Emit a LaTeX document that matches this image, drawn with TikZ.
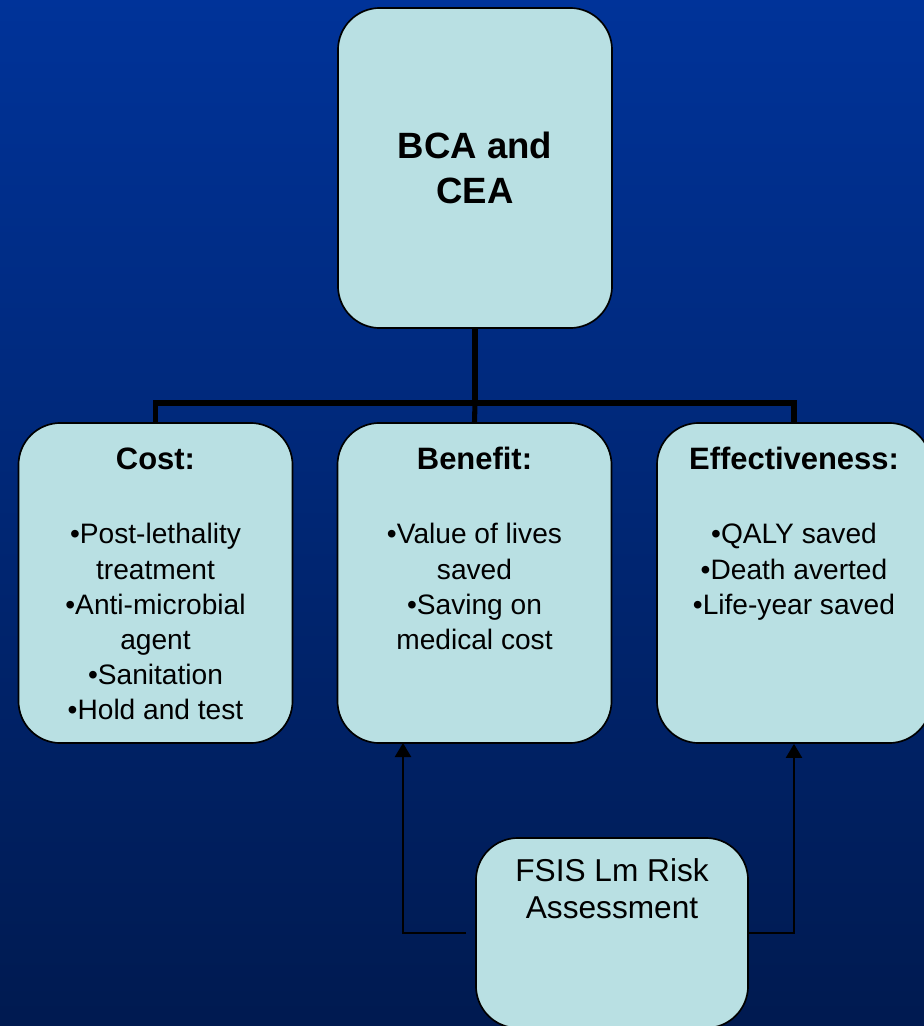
\documentclass[tikz,border=0pt]{standalone}
\usepackage{fontspec}
\setmainfont{Liberation Sans}
\usetikzlibrary{positioning, calc, arrows.meta}

\definecolor{bgtop}{RGB}{0,51,153}
\definecolor{bgbottom}{RGB}{0,26,80}
\definecolor{cardfill}{RGB}{185,224,227}

\newcommand{\cardtext}[3]{\parbox[c][8cm][t]{6.8cm}{\centering\vspace*{#1}{#2}\\[28pt]#3}}

\begin{document}
\begin{tikzpicture}[x=0.025cm, y=-0.025cm,
    card/.style={draw=black, line width=1.2pt, fill=cardfill, rounded corners=1.05cm,
        inner sep=0pt, minimum width=6.85cm, minimum height=8cm},
    tree/.style={draw=black, line width=3.6pt},
    feed/.style={draw=black, line width=1.4pt, -{Triangle[length=10pt, width=11.5pt]}}]
    \useasboundingbox (0,0) rectangle (924,1026);
    \clip (0,0) rectangle (924,1026);

    % background
    \shade[top color=bgtop, bottom color=bgbottom] (0,0) rectangle (924,1026);

    % top box
    \node[card, font=\fontsize{26}{32}\selectfont\bfseries, align=center] (top) at (475,168)
        {BCA and\\CEA};

    % three boxes below
    \node[card, font=\fontsize{20}{25}\selectfont] (cost) at (155.5,583)
        {\cardtext{15.5pt}{\fontsize{22}{25}\selectfont\bfseries\strut Cost:}
        {•Post-lethality\\treatment\\•Anti-microbial\\agent\\•Sanitation\\•Hold and test}};
    \node[card, font=\fontsize{20}{25}\selectfont] (ben) at (474.5,583)
        {\cardtext{15.5pt}{\fontsize{22}{25}\selectfont\bfseries\strut Benefit:}
        {•Value of lives\\saved\\•Saving on\\medical cost}};
    \node[card, font=\fontsize{20}{25}\selectfont] (eff) at (794,583)
        {\cardtext{15.5pt}{\fontsize{22}{25}\selectfont\bfseries\strut Effectiveness:}
        {•QALY saved\\•Death averted\\•Life-year saved}};

    % risk assessment box
    \node[card, minimum width=6.8cm, minimum height=4.75cm, font=\fontsize{22.5}{26}\selectfont] (fsis) at (612,933)
        {\parbox[c][4.75cm][t]{6.8cm}{\centering\vspace*{13pt}\strut FSIS Lm Risk\\Assessment}};

    % connectors of the tree
    \coordinate (bus) at (475,403);
    \draw[tree] (top.south) -- (bus);
    \draw[tree] (cost.north) |- (bus) -| (eff.north);
    \draw[tree] (bus) -- (ben.north);

    % arrows into the boxes
    \coordinate (fsisl) at (466,933);
    \coordinate (benin) at (403,743);
    \draw[feed] (fsisl) -| (benin);
    \draw[feed] (fsis.east) -| (eff.south);
\end{tikzpicture}
\end{document}
